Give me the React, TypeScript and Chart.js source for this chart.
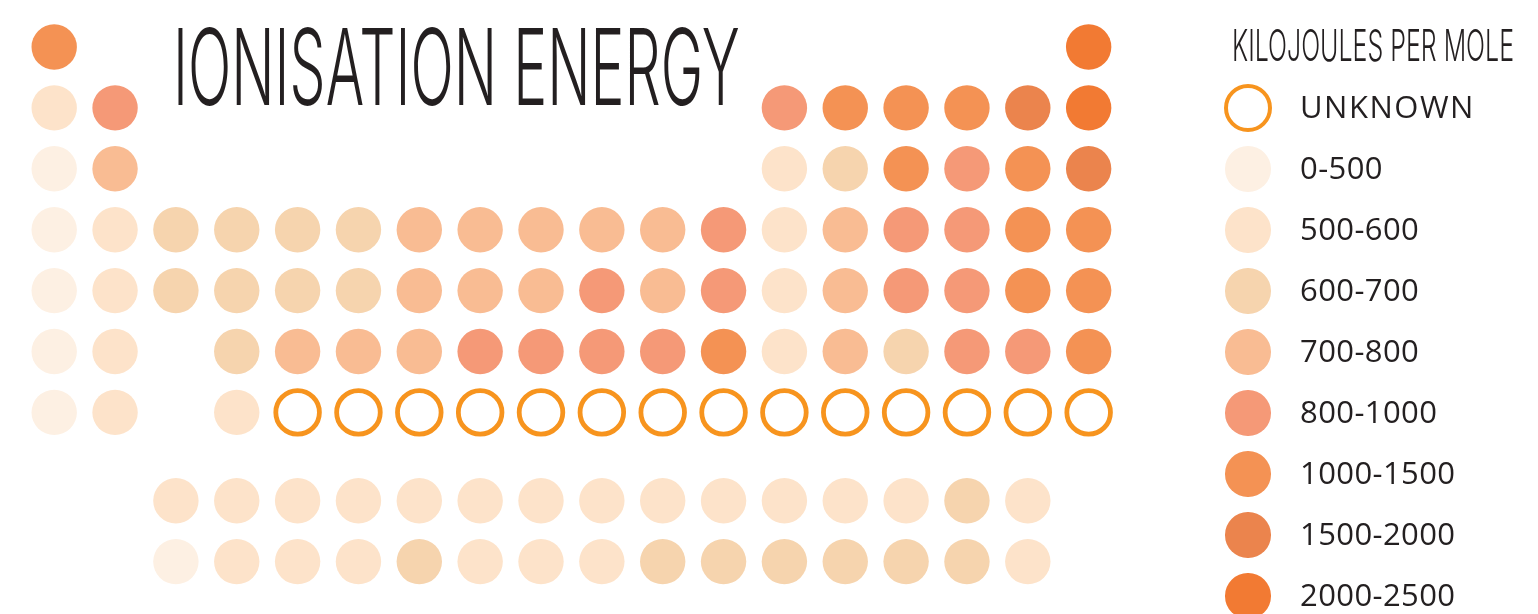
import React, { useEffect, useRef } from 'react';
import { Chart, registerables } from 'chart.js';

Chart.register(...registerables);

// ---------- data ----------
const TITLE = 'IONISATION ENERGY';
const LEGEND_TITLE = 'KILOJOULES PER MOLE';

const BANDS = ['UNKNOWN', '0-500', '500-600', '600-700', '700-800', '800-1000', '1000-1500', '1500-2000', '2000-2500'];
const BAND_COLORS = ['#F7941E', '#FDF0E3', '#FDE3CA', '#F6D4AE', '#F9BC93', '#F59977', '#F49254', '#EB844D', '#F27A33'];

// ionisation energy band (kJ/mol) of each element, in atomic-number order per period
const PERIOD_1 = ['1000-1500', '2000-2500'];
const PERIOD_2 = ['500-600', '800-1000', '800-1000', '1000-1500', '1000-1500', '1000-1500', '1500-2000', '2000-2500'];
const PERIOD_3 = ['0-500', '700-800', '500-600', '600-700', '1000-1500', '800-1000', '1000-1500', '1500-2000'];
const PERIOD_4 = ['0-500', '500-600', '600-700', '600-700', '600-700', '600-700', '700-800', '700-800', '700-800',
  '700-800', '700-800', '800-1000', '500-600', '700-800', '800-1000', '800-1000', '1000-1500', '1000-1500'];
const PERIOD_5 = ['0-500', '500-600', '600-700', '600-700', '600-700', '600-700', '700-800', '700-800', '700-800',
  '800-1000', '700-800', '800-1000', '500-600', '700-800', '800-1000', '800-1000', '1000-1500', '1000-1500'];
const PERIOD_6 = ['0-500', '500-600',
  // La .. Lu
  '500-600', '500-600', '500-600', '500-600', '500-600', '500-600', '500-600', '500-600', '500-600', '500-600',
  '500-600', '500-600', '500-600', '600-700', '500-600',
  // Hf .. Rn
  '600-700', '700-800', '700-800', '700-800', '800-1000', '800-1000', '800-1000', '800-1000', '1000-1500',
  '500-600', '700-800', '600-700', '800-1000', '800-1000', '1000-1500'];
const PERIOD_7 = ['0-500', '500-600',
  // Ac .. Lr
  '0-500', '500-600', '500-600', '500-600', '600-700', '500-600', '500-600', '500-600', '600-700', '600-700',
  '600-700', '600-700', '600-700', '600-700', '500-600',
  // Rf .. Og
  '500-600', 'UNKNOWN', 'UNKNOWN', 'UNKNOWN', 'UNKNOWN', 'UNKNOWN', 'UNKNOWN', 'UNKNOWN', 'UNKNOWN', 'UNKNOWN',
  'UNKNOWN', 'UNKNOWN', 'UNKNOWN', 'UNKNOWN', 'UNKNOWN'];

const PERIODS = [PERIOD_1, PERIOD_2, PERIOD_3, PERIOD_4, PERIOD_5, PERIOD_6, PERIOD_7];

// ---------- layout helpers ----------
const F_BLOCK_GAP = 0.45;

type Pt = { x: number; y: number };

function cellOf(period: number, i: number): Pt {
  if (period === 1) return { x: i === 0 ? 1 : 18, y: 1 };
  if (period === 2 || period === 3) return { x: i < 2 ? i + 1 : i + 11, y: period };
  if (period === 4 || period === 5) return { x: i + 1, y: period };
  // periods 6 and 7
  if (i < 2) return { x: i + 1, y: period };
  if (i < 17) return { x: 3 + (i - 2), y: 7 + F_BLOCK_GAP + (period - 5) };
  return { x: 4 + (i - 17), y: period };
}

function buildDatasets() {
  const groups: Pt[][] = BANDS.map(() => []);
  PERIODS.forEach((bands, pi) => {
    bands.forEach((b, i) => {
      const k = BANDS.indexOf(b);
      groups[k].push(cellOf(pi + 1, i));
    });
  });
  return BANDS.map((label, k) => {
    const unknown = k === 0;
    return {
      label,
      data: groups[k],
      pointRadius: unknown ? 21.8 : 22.7,
      pointHoverRadius: unknown ? 21.8 : 22.7,
      pointBorderWidth: unknown ? 4.8 : 0,
      pointHoverBorderWidth: unknown ? 4.8 : 0,
      pointBackgroundColor: unknown ? 'rgba(255,255,255,0)' : BAND_COLORS[k],
      pointBorderColor: BAND_COLORS[k],
      backgroundColor: unknown ? 'rgba(255,255,255,0)' : BAND_COLORS[k],
      borderColor: BAND_COLORS[k],
      showLine: false,
      clip: false as const,
    };
  });
}

const W = 1538;
const H = 614;
const COL_PX = 60.85;
const ROW_PX = 60.9;
const FIRST_X = 54.2;
const FIRST_Y = 47;

export default function App() {
  const canvasRef = useRef<HTMLCanvasElement | null>(null);
  const titleRef = useRef<HTMLDivElement | null>(null);
  const legTitleRef = useRef<HTMLDivElement | null>(null);

  useEffect(() => {
    const fit = (el: HTMLDivElement | null, target: number) => {
      if (!el) return;
      el.style.transform = 'none';
      const w = el.offsetWidth;
      if (w > 0) el.style.transform = `scaleX(${target / w})`;
    };
    const doFit = () => {
      fit(titleRef.current, 567);
      fit(legTitleRef.current, 282);
    };
    doFit();
    if ((document as any).fonts && (document as any).fonts.ready) {
      (document as any).fonts.ready.then(doFit);
    }

    if (!canvasRef.current) return;
    const xMin = 1 - FIRST_X / COL_PX;
    const yMin = 1 - FIRST_Y / ROW_PX;
    const chart = new Chart(canvasRef.current, {
      type: 'scatter',
      data: { datasets: buildDatasets() as any },
      options: {
        animation: false,
        responsive: false,
        events: [],
        layout: { padding: 0, autoPadding: false },
        plugins: { legend: { display: false }, tooltip: { enabled: false } },
        scales: {
          x: { type: 'linear', min: xMin, max: xMin + W / COL_PX, display: false },
          y: { type: 'linear', reverse: true, min: yMin, max: yMin + H / ROW_PX, display: false },
        },
      },
    });
    return () => chart.destroy();
  }, []);

  const legendX = 1248;
  const legendY0 = 108;
  const legendStep = 61;
  const textFont = 31;

  return (
    <div style={{ position: 'absolute', left: 0, top: 0, width: W, height: H, overflow: 'hidden', background: '#ffffff' }}>
      <canvas ref={canvasRef} width={W} height={H} style={{ position: 'absolute', left: 0, top: 0, width: W, height: H }} />
      <div
        ref={titleRef}
        style={{
          position: 'absolute', left: 173, top: 14.4, fontFamily: 'Inter', fontWeight: 300, fontSize: 106,
          lineHeight: 1, color: '#231F20', whiteSpace: 'nowrap', transformOrigin: 'left top', display: 'inline-block',
        }}
      >
        {TITLE}
      </div>
      <div
        ref={legTitleRef}
        style={{
          position: 'absolute', left: 1232, top: 23, fontFamily: 'Inter', fontWeight: 300, fontSize: 44,
          lineHeight: 1, color: '#231F20', whiteSpace: 'nowrap', transformOrigin: 'left top', display: 'inline-block',
        }}
      >
        {LEGEND_TITLE}
      </div>
      {BANDS.map((label, k) => {
        const cy = legendY0 + k * legendStep;
        const unknown = k === 0;
        const r = unknown ? 24.2 : 22.7;
        return (
          <React.Fragment key={label}>
            <div
              style={{
                position: 'absolute', left: legendX - r, top: cy - r, width: 2 * r, height: 2 * r, borderRadius: '50%',
                boxSizing: 'border-box',
                background: unknown ? 'transparent' : BAND_COLORS[k],
                border: unknown ? `4.8px solid ${BAND_COLORS[k]}` : 'none',
              }}
            />
            <div
              style={{
                position: 'absolute', left: 1300, top: cy + 11 - 0.888 * textFont, fontFamily: "'Open Sans'",
                fontSize: textFont, lineHeight: 1, color: '#231F20', whiteSpace: 'nowrap',
                letterSpacing: unknown ? 1.5 : 0.4,
              }}
            >
              {label}
            </div>
          </React.Fragment>
        );
      })}
    </div>
  );
}
